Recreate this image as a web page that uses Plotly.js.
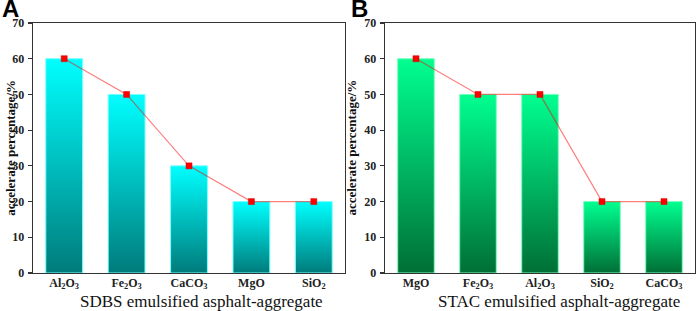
<!DOCTYPE html>
<html>
<head>
<meta charset="utf-8">
<script src="https://cdn.plot.ly/plotly-3.0.1.min.js"></script>
<style>html,body{margin:0;padding:0;background:#fff;}#chart{width:699px;height:311px;}</style>
</head>
<body>
<div id="chart"></div>
<script>
// Data
const catsA = ["Al<sub>2</sub>O<sub>3</sub>", "Fe<sub>2</sub>O<sub>3</sub>", "CaCO<sub>3</sub>", "MgO", "SiO<sub>2</sub>"];
const valsA = [60, 50, 30, 20, 20];
const catsB = ["MgO", "Fe<sub>2</sub>O<sub>3</sub>", "Al<sub>2</sub>O<sub>3</sub>", "SiO<sub>2</sub>", "CaCO<sub>3</sub>"];
const valsB = [60, 50, 50, 20, 20];
const yTicks = [0, 10, 20, 30, 40, 50, 60, 70];
const titleA = "SDBS emulsified asphalt-aggregate";
const titleB = "STAC emulsified asphalt-aggregate";
const yTitle = "accelerate percentage/%";

const serif = "'Liberation Serif', 'Times New Roman', serif";
const tickFont = {family: serif, size: 12, color: "#222", weight: "bold"};

function barTrace(cats, vals, xa, ya, edge) {
  return {type: "bar", x: cats, y: vals, xaxis: xa, yaxis: ya,
    marker: {color: "#00cccc", line: {color: edge, width: 1}}, hoverinfo: "none"};
}
function lineTrace(cats, vals, xa, ya) {
  return {type: "scatter", mode: "lines+markers", x: cats, y: vals, xaxis: xa, yaxis: ya,
    line: {color: "rgba(255,0,0,0.5)", width: 1.2},
    marker: {symbol: "square", size: 6, color: "#ff0000", line: {color: "#dd0000", width: 0.5}}, hoverinfo: "none"};
}

const data = [
  barTrace(catsA, valsA, "x", "y", "rgba(120,255,255,1)"),
  lineTrace(catsA, valsA, "x", "y"),
  barTrace(catsB, valsB, "x2", "y2", "rgba(120,255,190,1)"),
  lineTrace(catsB, valsB, "x2", "y2")
];

function yax(anchor) {
  return {anchor: anchor, range: [0, 70], tickvals: yTicks, ticks: "outside", ticklen: 4, tickwidth: 1.2,
    tickcolor: "#333", showline: true, linecolor: "#333", linewidth: 1.3, mirror: true, showgrid: false,
    zeroline: false, tickfont: tickFont, ticklabelstandoff: 1, fixedrange: true};
}
function xax(anchor, domain) {
  return {anchor: anchor, domain: domain, ticks: "", showline: true, linecolor: "#333", linewidth: 1.3,
    mirror: true, showgrid: false, tickfont: tickFont, fixedrange: true, tickangle: 0, ticklabelstandoff: -2};
}

const layout = {
  width: 699, height: 311,
  margin: {l: 33, r: 4, t: 23, b: 38},
  paper_bgcolor: "#fff", plot_bgcolor: "#fff",
  showlegend: false,
  bargap: 0.41,
  xaxis: xax("y", [0, 0.4713]),
  yaxis: yax("x"),
  xaxis2: xax("y2", [0.5317, 1]),
  yaxis2: yax("x2"),
  annotations: [
    {text: titleA, xref: "paper", yref: "paper", x: 0.2539, y: -0.114, xanchor: "center", yanchor: "middle", showarrow: false,
     font: {family: serif, size: 17, color: "#111"}},
    {text: titleB, xref: "paper", yref: "paper", x: 0.794, y: -0.114, xanchor: "center", yanchor: "middle", showarrow: false,
     font: {family: serif, size: 17, color: "#111"}},
    {text: "<b>" + yTitle + "</b>", xref: "paper", yref: "paper", x: -0.035, y: 0.5, textangle: -90, xanchor: "center", yanchor: "middle",
     showarrow: false, font: {family: serif, size: 13, color: "#111"}},
    {text: "<b>" + yTitle + "</b>", xref: "paper", yref: "paper", x: 0.5317 - 0.052, y: 0.5, textangle: -90, xanchor: "center", yanchor: "middle",
     showarrow: false, font: {family: serif, size: 13, color: "#111"}},
    {text: "<b>A</b>", xref: "paper", yref: "paper", x: -0.050, y: 1.056, xanchor: "left", yanchor: "middle", showarrow: false,
     font: {family: "'Liberation Sans', Arial, sans-serif", size: 24, color: "#000"}},
    {text: "<b>B</b>", xref: "paper", yref: "paper", x: 0.478, y: 1.056, xanchor: "left", yanchor: "middle", showarrow: false,
     font: {family: "'Liberation Sans', Arial, sans-serif", size: 24, color: "#000"}}
  ]
};

Plotly.newPlot("chart", data, layout, {staticPlot: true, displayModeBar: false}).then(function (gd) {
  const svgNS = "http://www.w3.org/2000/svg";
  const svg = gd.querySelector(".main-svg");
  let defs = svg.querySelector("defs");
  if (!defs) { defs = document.createElementNS(svgNS, "defs"); svg.insertBefore(defs, svg.firstChild); }
  function grad(id, top, bottom) {
    const g = document.createElementNS(svgNS, "linearGradient");
    g.setAttribute("id", id);
    g.setAttribute("x1", "0"); g.setAttribute("y1", "0"); g.setAttribute("x2", "0"); g.setAttribute("y2", "1");
    [[0, top], [1, bottom]].forEach(function (s) {
      const st = document.createElementNS(svgNS, "stop");
      st.setAttribute("offset", s[0]); st.setAttribute("stop-color", s[1]);
      g.appendChild(st);
    });
    defs.appendChild(g);
  }
  grad("gradA", "#00ffff", "#007b7b");
  grad("gradB", "#00ff90", "#006f35");
  const barTraces = gd.querySelectorAll(".barlayer .trace");
  barTraces.forEach(function (t, i) {
    t.querySelectorAll("path").forEach(function (p) { p.style.fill = i === 0 ? "url(#gradA)" : "url(#gradB)"; });
  });
});
</script>
</body>
</html>
